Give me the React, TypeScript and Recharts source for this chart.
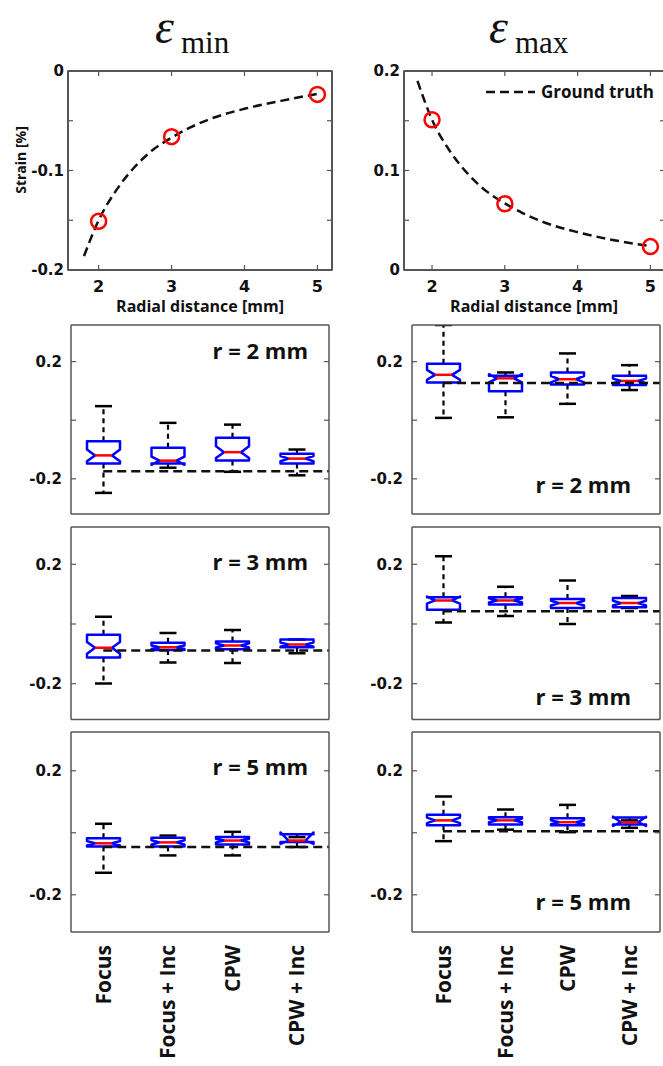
import React from "react";
import { ComposedChart, XAxis, YAxis, Bar, Line, ReferenceLine, CartesianGrid } from "recharts";

const categories = ["Focus", "Focus + Inc", "CPW", "CPW + Inc"];
const radialTicks = [2, 3, 4, 5];

// ground truth curves (top plots)
const truthRadius = [1.8, 2, 2.25, 2.5, 2.75, 3, 3.25, 3.5, 4, 4.5, 5];
const truthMin = [-0.186, -0.15, -0.119, -0.096, -0.079, -0.067, -0.057, -0.049, -0.038, -0.03, -0.023];
const truthMax = [0.19, 0.151, 0.119, 0.096, 0.079, 0.067, 0.057, 0.049, 0.038, 0.03, 0.024];

// estimated strain at the three radii
const measuredRadius = [2, 3, 5];
const measuredMin = [-0.151, -0.066, -0.0235];
const measuredMax = [0.151, 0.0666, 0.0235];

// box rows: [low whisker, q1, notch low, median, notch high, q3, high whisker]
const boxMinR2 = [
  [-0.248, -0.148, -0.14, -0.12, -0.1, -0.072, 0.048],
  [-0.162, -0.148, -0.152, -0.138, -0.124, -0.094, -0.009],
  [-0.176, -0.137, -0.129, -0.109, -0.089, -0.06, -0.015],
  [-0.188, -0.148, -0.14, -0.131, -0.122, -0.114, -0.1],
];
const boxMaxR2 = [
  [0.008, 0.129, 0.138, 0.155, 0.172, 0.193, 0.325],
  [0.01, 0.099, 0.129, 0.143, 0.157, 0.152, 0.163],
  [0.056, 0.122, 0.129, 0.14, 0.151, 0.163, 0.228],
  [0.103, 0.12, 0.126, 0.134, 0.142, 0.152, 0.188],
];
const boxMinR3 = [
  [-0.199, -0.112, -0.1, -0.08, -0.06, -0.036, 0.024],
  [-0.129, -0.087, -0.084, -0.078, -0.072, -0.063, -0.03],
  [-0.131, -0.085, -0.079, -0.072, -0.065, -0.059, -0.02],
  [-0.098, -0.078, -0.076, -0.069, -0.062, -0.052, -0.052],
];
const boxMaxR3 = [
  [0.005, 0.048, 0.068, 0.079, 0.092, 0.09, 0.227],
  [0.027, 0.065, 0.072, 0.079, 0.086, 0.09, 0.125],
  [0.0, 0.054, 0.062, 0.07, 0.078, 0.084, 0.146],
  [0.054, 0.056, 0.062, 0.07, 0.078, 0.087, 0.094],
];
const boxMinR5 = [
  [-0.129, -0.044, -0.041, -0.034, -0.027, -0.018, 0.029],
  [-0.073, -0.044, -0.038, -0.031, -0.024, -0.016, -0.009],
  [-0.073, -0.038, -0.031, -0.025, -0.019, -0.014, 0.003],
  [-0.046, -0.03, -0.036, -0.025, 0.001, -0.005, -0.014],
];
const boxMaxR5 = [
  [-0.027, 0.024, 0.031, 0.04, 0.049, 0.058, 0.117],
  [0.01, 0.027, 0.034, 0.04, 0.046, 0.05, 0.075],
  [0.002, 0.024, 0.028, 0.034, 0.04, 0.047, 0.09],
  [0.016, 0.027, 0.022, 0.034, 0.052, 0.049, 0.04],
];

// ground truth level in each box panel (r = 2, 3, 5 mm)
const truthMinBox = [-0.174, -0.089, -0.046];
const truthMaxBox = [0.127, 0.043, 0.005];

const frame = { stroke: "#555", strokeWidth: 1.5 };
const tickFont = { fontFamily: "DejaVu Sans", fontWeight: 700, fontSize: 15, fill: "#111" };
const sansBold = { fontFamily: "Open Sans", fontWeight: 700, fill: "#111" };
const TICK = 5;

const leftTick = (margin: number, labels: number[]) => (p: any) => {
  const v = p.payload.value;
  const ax = p.x + margin;
  return (
    <g>
      <line x1={ax} x2={ax + TICK} y1={p.y} y2={p.y} stroke="#555" strokeWidth={1.2} />
      <text x={p.x} y={p.y} dy="0.36em" textAnchor="end" style={tickFont}>
        {labels.includes(v) ? String(v) : ""}
      </text>
    </g>
  );
};
const rightTick = (p: any) => (
  <line x1={p.x - TICK} x2={p.x} y1={p.y} y2={p.y} stroke="#555" strokeWidth={1.2} />
);
const topTick = (p: any) => (
  <line x1={p.x} x2={p.x} y1={p.y} y2={p.y + TICK} stroke="#555" strokeWidth={1.2} />
);
const bottomTick = (margin: number) => (p: any) => {
  const ay = p.y - margin;
  return (
    <g>
      <line x1={p.x} x2={p.x} y1={ay} y2={ay - TICK} stroke="#555" strokeWidth={1.2} />
      <text x={p.x} y={p.y} dy="0.36em" textAnchor="middle" style={{ ...tickFont, fontSize: 16 }}>
        {String(p.payload.value)}
      </text>
    </g>
  );
};
const catTick = (p: any) => {
  const y0 = p.y + 13;
  return (
    <text
      x={p.x}
      y={y0}
      dy="0.36em"
      transform={`rotate(-90, ${p.x}, ${y0})`}
      textAnchor="end"
      style={{ ...sansBold, fontSize: 21 }}
    >
      {categories[p.payload.value - 1]}
    </text>
  );
};

// hollow red marker, only where a measured value exists
const RedCircle = (p: any) => {
  if (p.value == null || p.cy == null) return <g key={p.key} />;
  return <circle key={p.key} cx={p.cx} cy={p.cy} r={7.5} fill="none" stroke="#ff0000" strokeWidth={2.5} />;
};

// frame edges of the plot area, taken from the chart's own offset
const frameRows = (p: any) => [p.offset.top, p.offset.top + p.offset.height];
const frameCols = (p: any) => [p.offset.left, p.offset.left + p.offset.width];

function BoxShape(p: any) {
  const { x, y, width, height, payload: d } = p;
  if (x == null || y == null) return null;
  const top = Math.min(y, y + height);
  const bot = Math.max(y, y + height);
  const py = (v: number) => bot - ((v - d.low) / (d.high - d.low)) * (bot - top);
  const cx = x + width / 2;
  const L = cx - width / 2;
  const R = cx + width / 2;
  const ind = 8;
  const cap = 8.5;
  const pts = [
    [L, py(d.q3)],
    [R, py(d.q3)],
    [R, py(d.nHi)],
    [R - ind, py(d.med)],
    [R, py(d.nLo)],
    [R, py(d.q1)],
    [L, py(d.q1)],
    [L, py(d.nLo)],
    [L + ind, py(d.med)],
    [L, py(d.nHi)],
  ]
    .map((q) => q.join(","))
    .join(" ");
  return (
    <g>
      <line x1={cx} x2={cx} y1={py(d.q3)} y2={py(d.high)} stroke="#000" strokeWidth={2.2} strokeDasharray="5 4" />
      <line x1={cx} x2={cx} y1={py(d.q1)} y2={py(d.low)} stroke="#000" strokeWidth={2.2} strokeDasharray="5 4" />
      <line x1={cx - cap} x2={cx + cap} y1={py(d.high)} y2={py(d.high)} stroke="#000" strokeWidth={2.5} />
      <line x1={cx - cap} x2={cx + cap} y1={py(d.low)} y2={py(d.low)} stroke="#000" strokeWidth={2.5} />
      <polygon points={pts} fill="none" stroke="#0000ff" strokeWidth={2.5} strokeLinejoin="round" />
      <line x1={L + ind} x2={R - ind} y1={py(d.med)} y2={py(d.med)} stroke="#ff0000" strokeWidth={2.5} />
    </g>
  );
}

function TopPanel(props: {
  left: number;
  width: number;
  margin: any;
  xDomain: number[];
  yDomain: number[];
  yTicks: number[];
  yLabels: number[];
  truth: number[];
  measured: number[];
}) {
  const data = truthRadius.map((r, i) => {
    const k = measuredRadius.indexOf(r);
    return { r, v: props.truth[i], m: k >= 0 ? props.measured[k] : null };
  });
  return (
    <div style={{ position: "absolute", left: props.left, top: 40 }}>
      <ComposedChart width={props.width} height={260} margin={props.margin} data={data}>
        <CartesianGrid xAxisId="b" yAxisId="l" stroke="#555" strokeWidth={1.5} fill="none"
          horizontalCoordinatesGenerator={frameRows} verticalCoordinatesGenerator={frameCols} />
        <XAxis xAxisId="b" type="number" dataKey="r" domain={props.xDomain} ticks={radialTicks} allowDataOverflow
          axisLine={frame} tickLine={false} tickSize={0} tickMargin={16.5} tick={bottomTick(16.5)} height={30} />
        <XAxis xAxisId="t" orientation="top" type="number" dataKey="r" domain={props.xDomain} ticks={radialTicks}
          allowDataOverflow axisLine={frame} tickLine={false} tickSize={0} tickMargin={0} tick={topTick} height={1} />
        <YAxis yAxisId="l" type="number" domain={props.yDomain} ticks={props.yTicks} allowDataOverflow
          axisLine={frame} tickLine={false} tickSize={0} tickMargin={4} tick={leftTick(4, props.yLabels)} width={60} />
        <YAxis yAxisId="r" orientation="right" type="number" domain={props.yDomain} ticks={props.yTicks}
          allowDataOverflow axisLine={frame} tickLine={false} tickSize={0} tickMargin={0} tick={rightTick} width={1} />
        {/* invisible series so the top and right frame axes get drawn */}
        <Line xAxisId="t" yAxisId="r" dataKey="v" stroke="none" dot={false} activeDot={false}
          isAnimationActive={false} />
        <Line xAxisId="b" yAxisId="l" dataKey="v" type="monotone" stroke="#111" strokeWidth={2.5}
          strokeDasharray="9 5" dot={false} activeDot={false} isAnimationActive={false} />
        <Line xAxisId="b" yAxisId="l" dataKey="m" stroke="none" dot={RedCircle} activeDot={false}
          isAnimationActive={false} />
      </ComposedChart>
    </div>
  );
}

function BoxPanel(props: {
  left: number;
  top: number;
  width: number;
  height: number;
  margin: any;
  rows: number[][];
  truth: number;
  cats?: boolean;
}) {
  const data = props.rows.map((r, i) => ({
    pos: i + 1,
    low: r[0],
    q1: r[1],
    nLo: r[2],
    med: r[3],
    nHi: r[4],
    q3: r[5],
    high: r[6],
    range: [r[0], r[6]],
  }));
  const yDomain = [-0.32, 0.325];
  const yTicks = [-0.2, 0, 0.2];
  return (
    <div style={{ position: "absolute", left: props.left, top: props.top }}>
      <ComposedChart width={props.width} height={props.height} margin={props.margin} data={data}>
        <XAxis xAxisId="b" type="number" dataKey="pos" domain={[0.5, 4.5]} ticks={[1, 2, 3, 4]} allowDataOverflow
          axisLine={frame} tickLine={false} tickSize={0} tickMargin={0} tick={props.cats ? catTick : false}
          height={props.cats ? 134 : 1} />
        <XAxis xAxisId="t" orientation="top" type="number" dataKey="pos" domain={[0.5, 4.5]} allowDataOverflow
          axisLine={frame} tickLine={false} tick={false} height={1} />
        <YAxis yAxisId="l" type="number" domain={yDomain} ticks={yTicks} allowDataOverflow axisLine={frame}
          tickLine={false} tickSize={0} tickMargin={9} tick={leftTick(9, [-0.2, 0.2])} width={60} />
        <YAxis yAxisId="r" orientation="right" type="number" domain={yDomain} ticks={yTicks} allowDataOverflow
          axisLine={frame} tickLine={false} tickSize={0} tickMargin={0} tick={rightTick} width={1} />
        {/* invisible series so the top and right frame axes get drawn */}
        <Line xAxisId="t" yAxisId="r" dataKey="med" stroke="none" dot={false} activeDot={false}
          isAnimationActive={false} />
        <Bar xAxisId="b" yAxisId="l" dataKey="range" barSize={33} shape={BoxShape} isAnimationActive={false} />
        <ReferenceLine xAxisId="b" yAxisId="l" segment={[{ x: 1, y: props.truth }, { x: 4.5, y: props.truth }]}
          stroke="#111" strokeWidth={2.5} strokeDasharray="9 5" />
      </ComposedChart>
    </div>
  );
}

const panelLabels = [
  { x: 308, y: 359, t: "r = 2 mm" },
  { x: 631, y: 493, t: "r = 2 mm" },
  { x: 308, y: 570, t: "r = 3 mm" },
  { x: 631, y: 705, t: "r = 3 mm" },
  { x: 308, y: 775, t: "r = 5 mm" },
  { x: 631, y: 910, t: "r = 5 mm" },
];

export default function App() {
  const leftM = { top: 30, right: 7, left: 8, bottom: 0 };
  const rightM = { top: 30, right: 14, left: 4, bottom: 0 };
  const serif = { fontFamily: "Liberation Serif", fill: "#111" };
  return (
    <div style={{ position: "absolute", left: 0, top: 0, width: 663, height: 1066, overflow: "hidden", background: "#fff" }}>
      <TopPanel left={0} width={340} margin={leftM} xDomain={[1.58, 5.2]} yDomain={[-0.2, 0]}
        yTicks={[-0.2, -0.15, -0.1, -0.05, 0]} yLabels={[-0.2, -0.1, 0]} truth={truthMin} measured={measuredMin} />
      <TopPanel left={340} width={340} margin={rightM} xDomain={[1.615, 5.2]} yDomain={[0, 0.2]}
        yTicks={[0, 0.05, 0.1, 0.15, 0.2]} yLabels={[0, 0.1, 0.2]} truth={truthMax} measured={measuredMax} />

      <BoxPanel left={0} top={300} width={340} height={220} margin={{ top: 24, right: 10, left: 11, bottom: 5 }}
        rows={boxMinR2} truth={truthMinBox[0]} />
      <BoxPanel left={340} top={300} width={323} height={220} margin={{ top: 24, right: 2, left: 12, bottom: 5 }}
        rows={boxMaxR2} truth={truthMaxBox[0]} />
      <BoxPanel left={0} top={520} width={340} height={205} margin={{ top: 6, right: 10, left: 11, bottom: 4.5 }}
        rows={boxMinR3} truth={truthMinBox[1]} />
      <BoxPanel left={340} top={520} width={323} height={205} margin={{ top: 6, right: 2, left: 12, bottom: 4.5 }}
        rows={boxMaxR3} truth={truthMaxBox[1]} />
      <BoxPanel left={0} top={725} width={340} height={341} margin={{ top: 6, right: 10, left: 11, bottom: 0 }}
        rows={boxMinR5} truth={truthMinBox[2]} cats />
      <BoxPanel left={340} top={725} width={323} height={341} margin={{ top: 6, right: 2, left: 12, bottom: 0 }}
        rows={boxMaxR5} truth={truthMaxBox[2]} cats />

      <svg width={663} height={1066} style={{ position: "absolute", left: 0, top: 0, pointerEvents: "none" }}>
        {/* plot frames of the two top panels (same edges as the charts' plot areas) */}
        <rect x={68} y={71} width={264} height={199} fill="none" stroke="#555" strokeWidth={1.5} />
        <rect x={404} y={71} width={261} height={199} fill="none" stroke="#555" strokeWidth={1.5} />

        <text x={155} y={43} style={{ ...serif, fontStyle: "italic", fontSize: 48 }}>ε</text>
        <text x={181} y={53} style={{ ...serif, fontSize: 31 }}>min</text>
        <text x={489} y={43} style={{ ...serif, fontStyle: "italic", fontSize: 48 }}>ε</text>
        <text x={515} y={53} style={{ ...serif, fontSize: 31 }}>max</text>

        <text x={21} y={160} transform="rotate(-90, 21, 160)" textAnchor="middle" dy="0.36em"
          style={{ ...sansBold, fontSize: 14 }}>Strain [%]</text>
        <text x={200} y={312} textAnchor="middle" style={{ ...sansBold, fontSize: 16 }}>Radial distance [mm]</text>
        <text x={534} y={312} textAnchor="middle" style={{ ...sansBold, fontSize: 16 }}>Radial distance [mm]</text>

        <line x1={486} x2={535} y1={92} y2={92} stroke="#111" strokeWidth={2.5} strokeDasharray="9 5" />
        <text x={541} y={98} style={{ ...sansBold, fontSize: 17 }}>Ground truth</text>

        {panelLabels.map((l, i) => (
          <text key={i} x={l.x} y={l.y} textAnchor="end" style={{ ...sansBold, fontSize: 22 }}>{l.t}</text>
        ))}
      </svg>
    </div>
  );
}
